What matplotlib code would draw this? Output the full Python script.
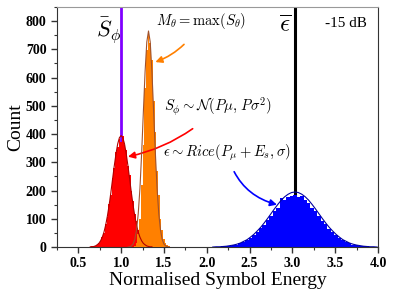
import matplotlib
matplotlib.use("Agg")
import matplotlib.pyplot as plt
from matplotlib.ticker import MultipleLocator

plt.rcParams["font.family"] = ["Liberation Serif", "DejaVu Serif"]
plt.rcParams["mathtext.fontset"] = "cm"

# ---- histogram of S_phi (red), bin width 0.02 -------------------------
red_x = [0.64, 0.66, 0.68, 0.70, 0.72, 0.74, 0.76, 0.78, 0.80, 0.82,
         0.84, 0.86, 0.88, 0.90, 0.92, 0.94, 0.96, 0.98, 1.00, 1.02,
         1.04, 1.06, 1.08, 1.10, 1.12, 1.14, 1.16, 1.18, 1.20, 1.22,
         1.24, 1.26, 1.28, 1.30, 1.32, 1.34, 1.36]
red_counts = [1, 2, 3, 5, 7, 14, 20, 37, 51, 81,
              106, 152, 186, 246, 279, 338, 356, 381, 372, 392,
              361, 342, 286, 256, 198, 164, 117, 93, 61, 46,
              27, 20, 11, 8, 4, 2, 1]
red_fit = [1, 1, 2, 4, 8, 13, 22, 35, 53, 78,
           110, 148, 192, 240, 287, 330, 365, 387, 395, 387,
           365, 330, 287, 240, 192, 148, 110, 78, 53, 35,
           22, 13, 8, 4, 2, 1, 1]

# ---- histogram of M_theta (orange), bin width 0.02 --------------------
orange_x = [1.14, 1.16, 1.18, 1.20, 1.22, 1.24, 1.26, 1.28, 1.30, 1.32,
            1.34, 1.36, 1.38, 1.40, 1.42, 1.44, 1.46, 1.48, 1.50, 1.52,
            1.54, 1.56, 1.58]
orange_counts = [1, 5, 14, 45, 101, 220, 361, 562, 698, 765,
                 722, 661, 518, 409, 268, 183, 99, 61, 27, 14,
                 7, 3, 1]
orange_fit_x = [1.08, 1.10, 1.12, 1.14, 1.16, 1.18, 1.20, 1.22, 1.24, 1.26,
                1.28, 1.30, 1.32, 1.34, 1.36, 1.38, 1.40, 1.42, 1.44, 1.46,
                1.48, 1.50, 1.52, 1.54, 1.56]
orange_fit = [0, 1, 4, 11, 27, 60, 118, 208, 333, 479,
              621, 726, 765, 726, 621, 479, 333, 208, 118, 60,
              27, 11, 4, 1, 0]

# ---- histogram of epsilon (blue), bin width 0.04 ----------------------
blue_x = [2.07, 2.11, 2.15, 2.19, 2.23, 2.27, 2.31, 2.35, 2.39, 2.43,
          2.47, 2.51, 2.55, 2.59, 2.63, 2.67, 2.71, 2.75, 2.79, 2.83,
          2.87, 2.91, 2.95, 2.99, 3.03, 3.07, 3.11, 3.15, 3.19, 3.23,
          3.27, 3.31, 3.35, 3.39, 3.43, 3.47, 3.51, 3.55, 3.59, 3.63,
          3.67, 3.71, 3.75, 3.79, 3.83, 3.87, 3.91, 3.95, 3.99]
blue_counts = [0, 1, 1, 2, 3, 4, 6, 9, 13, 18,
               24, 32, 42, 52, 66, 78, 95, 109, 127, 139,
               172, 166, 176, 180, 184, 179, 181, 166, 156, 140,
               126, 110, 94, 81, 64, 53, 41, 33, 24, 19,
               13, 9, 6, 4, 3, 2, 1, 1, 0]
blue_fit = [0, 1, 1, 2, 3, 5, 7, 10, 14, 20,
            26, 35, 45, 57, 70, 85, 101, 118, 135, 151,
            166, 178, 187, 193, 195, 193, 187, 178, 166, 151,
            135, 118, 101, 85, 70, 57, 45, 35, 26, 20,
            14, 10, 7, 5, 3, 2, 1, 1, 0]

s_phi_mean = 1.0
eps_mean = 3.03

fig = plt.figure(figsize=(3.95, 2.91), dpi=100)
ax = fig.add_axes([0.144, 0.151, 0.813, 0.825])

# reference lines sit behind the histograms
ax.axvline(s_phi_mean, color="#8000ff", lw=2, zorder=1)
ax.axvline(eps_mean, color="black", lw=2.2, zorder=1)

# antialiasing off so neighbouring bars don't leave white seams
ax.bar(red_x, red_counts, width=0.02, color="#ff0000", lw=0,
       antialiased=False, zorder=2)
ax.bar(orange_x, orange_counts, width=0.02, color="#ff8000", lw=0,
       antialiased=False, zorder=3)
ax.bar(blue_x, blue_counts, width=0.04, color="#0000ff", lw=0,
       antialiased=False, zorder=2)

ax.plot(red_x, red_fit, color="#b00000", lw=0.8, zorder=4)
ax.plot(orange_fit_x, orange_fit, color="#a0522d", lw=0.8, zorder=4)
ax.plot(blue_x, blue_fit, color="#0000a0", lw=0.8, zorder=4)

# labels on the reference lines
ax.text(0.86, 765, r"$\bar{S}_\phi$", fontsize=16, ha="center", va="center")
ax.text(2.92, 785, r"$\overline{\epsilon}$", fontsize=18, ha="center", va="center")
ax.text(3.62, 790, "-15 dB", fontsize=11, ha="center", va="center")

# annotations with curved arrows
ax.annotate(r"$M_\theta = \max(S_\theta)$", xy=(1.40, 655), xytext=(1.93, 800),
            fontsize=10.5, ha="center", va="center",
            arrowprops=dict(arrowstyle="-|>", color="#ff8000", lw=1.2,
                            connectionstyle="arc3,rad=-0.2",
                            shrinkA=10, shrinkB=0, mutation_scale=10))
ax.annotate(r"$S_\phi \sim \mathcal{N}(P\mu,\, P\sigma^2)$", xy=(1.08, 320),
            xytext=(2.13, 495), fontsize=10.5, ha="center", va="center",
            arrowprops=dict(arrowstyle="-|>", color="#ff0000", lw=1.2,
                            connectionstyle="arc3,rad=-0.15",
                            shrinkA=9, shrinkB=0, mutation_scale=10))
ax.annotate(r"$\epsilon \sim Rice(P_\mu + E_s, \sigma)$", xy=(2.82, 150),
            xytext=(2.24, 335), fontsize=10.5, ha="center", va="center",
            arrowprops=dict(arrowstyle="-|>", color="#0000ff", lw=1.2,
                            connectionstyle="arc3,rad=0.3",
                            shrinkA=5, shrinkB=0, mutation_scale=10))

ax.set_xlim(0.25, 4.0)
ax.set_ylim(0, 850)
ax.xaxis.set_major_locator(MultipleLocator(0.5))
ax.xaxis.set_minor_locator(MultipleLocator(0.25))
ax.yaxis.set_major_locator(MultipleLocator(100))
ax.yaxis.set_minor_locator(MultipleLocator(50))
ax.tick_params(which="both", direction="out", colors="#333333", labelcolor="black")
ax.tick_params(which="major", length=4, width=1)
ax.tick_params(which="minor", length=2.5, width=0.8)
for lab in ax.get_xticklabels() + ax.get_yticklabels():
    lab.set_fontweight("bold")
    lab.set_fontsize(10)

for side in ["left", "bottom"]:
    ax.spines[side].set_color("#333333")
ax.spines["top"].set_color("#999999")
ax.spines["right"].set_color("#333333")

ax.set_xlabel("Normalised Symbol Energy", fontsize=14, labelpad=1)
ax.set_ylabel("Count", fontsize=14, labelpad=1)

fig.savefig("out.png", dpi=100)
